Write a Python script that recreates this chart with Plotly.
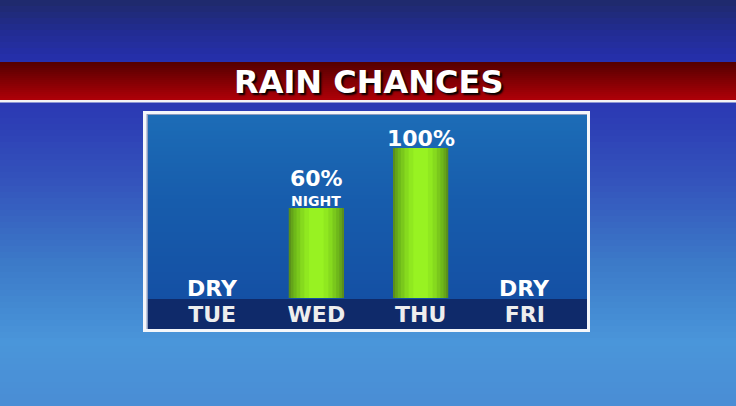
"""Rain chances TV weather graphic."""

import plotly.graph_objects as go

DAYS = ["TUE", "WED", "THU", "FRI"]
CHANCE = [0, 60, 100, 0]
VALUE_LABELS = ["DRY", "60%", "100%", "DRY"]
NOTES = ["", "NIGHT", "", ""]
TITLE = "RAIN CHANCES"

W, H = 736, 406
FONT = "DejaVu Sans"


def px(x):
    return x / W


def py(y):
    return 1 - y / H


def mix(c1, c2, t):
    a = [int(c1[i:i + 2], 16) for i in (1, 3, 5)]
    b = [int(c2[i:i + 2], 16) for i in (1, 3, 5)]
    return "#" + "".join(f"{round(u + (v - u) * t):02x}" for u, v in zip(a, b))


def strips(stops, x0, x1, step=4):
    """Vertical gradient made of thin rectangles; stops are (pixel_y, colour)."""
    out = []
    for (ya, ca), (yb, cb) in zip(stops, stops[1:]):
        y = ya
        while y < yb:
            y2 = min(y + step, yb)
            t = (y - ya) / max(yb - ya, 1)
            out.append(dict(type="rect", xref="paper", yref="paper", layer="below",
                            x0=px(x0), x1=px(x1), y0=py(y2 + 0.5), y1=py(y),
                            line={"width": 0}, fillcolor=mix(ca, cb, t)))
            y = y2
    return out


shapes = []
# backdrop
shapes += strips([(0, "#1f2a6e"), (30, "#222c94"), (60, "#2630ae"), (112, "#2c3cb4"), (180, "#3454bc"),
                  (260, "#3c7ac8"), (340, "#4a96da"), (406, "#4a8cd4")], 0, W, step=6)
# red banner
shapes += strips([(62, "#560000"), (100, "#b20008")], 0, W, step=2)
shapes.append(dict(type="rect", xref="paper", yref="paper", x0=0, x1=1, y0=py(102.5), y1=py(100),
                   line={"width": 0}, fillcolor="#f4f4f4", layer="below"))
# chart box: white frame, shadow line, blue panel, navy day band
shapes.append(dict(type="rect", xref="paper", yref="paper", x0=px(143), x1=px(590), y0=py(332), y1=py(111),
                   line={"width": 0}, fillcolor="#f4f6fa", layer="below"))
shapes.append(dict(type="rect", xref="paper", yref="paper", x0=px(146.5), x1=px(587), y0=py(329), y1=py(114),
                   line={"width": 0}, fillcolor="#8c9cc0", layer="below"))
shapes += strips([(115, "#1c6cb6"), (200, "#175cac"), (299, "#1450a4")], 148, 587, step=4)
shapes.append(dict(type="rect", xref="paper", yref="paper", x0=px(148), x1=px(587), y0=py(329), y1=py(299),
                   line={"width": 0}, fillcolor="#0f2a6a", layer="below"))

fig = go.Figure()
# layered bars give the cylinder-like shading of the green columns
bar_layers = ((0.53, "#5a8e1c"), (0.49, "#64a41a"), (0.44, "#6eb81a"), (0.38, "#7ac81c"),
              (0.31, "#86da1e"), (0.23, "#90e820"), (0.14, "#98f222"))
for width, color in bar_layers:
    fig.add_bar(x=DAYS, y=CHANCE, width=width, marker={"color": color, "line": {"width": 0}},
                hoverinfo="skip", showlegend=False)

annotations = [dict(x=0.5, y=py(82), xref="paper", yref="paper", text=TITLE, showarrow=False,
                    xanchor="center", yanchor="middle",
                    font={"family": FONT, "size": 32, "color": "#ffffff", "weight": "bold",
                          "shadow": "2px 2px 2px #000000"})]
for day, value, label, note in zip(DAYS, CHANCE, VALUE_LABELS, NOTES):
    if note:
        annotations.append(dict(x=day, y=value, xref="x", yref="y", text=note, showarrow=False,
                                yanchor="bottom", yshift=-3,
                                font={"family": FONT, "size": 14, "color": "#ffffff", "weight": "bold"}))
    annotations.append(dict(x=day, y=value, xref="x", yref="y", text=label, showarrow=False,
                            yanchor="bottom", yshift=15 if note else -5,
                            font={"family": FONT, "size": 22, "color": "#ffffff", "weight": "bold"}))

fig.update_layout(
    width=W, height=H, margin={"l": 0, "r": 0, "t": 0, "b": 0},
    paper_bgcolor="#2a3ab0", plot_bgcolor="rgba(0,0,0,0)",
    barmode="overlay", shapes=shapes, annotations=annotations,
    xaxis={"domain": [px(160), px(577)], "range": [-0.5, 3.5], "showgrid": False, "zeroline": False,
           "showline": False, "ticks": "", "ticklabelstandoff": 1, "fixedrange": True,
           "tickfont": {"family": FONT, "size": 22, "color": "#eeeeee", "weight": "bold"}},
    yaxis={"domain": [py(298), py(148)], "range": [0, 100], "visible": False, "fixedrange": True},
)

# page body has an 8px default margin; drop it so the graphic fills the window
fig.write_html("out.html", config={"displayModeBar": False},
               post_script="document.body.style.margin='0';document.body.style.overflow='hidden';")
